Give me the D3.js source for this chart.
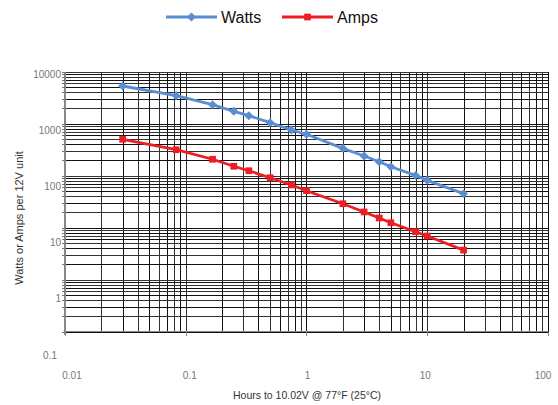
<!DOCTYPE html>
<html>
<head>
<meta charset="utf-8">
<script src="https://cdn.jsdelivr.net/npm/d3@7"></script>
<style>
body{margin:0;background:#fff;}
svg{display:block;font-family:"Liberation Sans",Arial,sans-serif;}
</style>
</head>
<body>
<svg id="c" width="558" height="405"></svg>
<script>
const hours = [0.03, 0.0833, 0.1667, 0.25, 0.333, 0.5, 0.75, 1, 2, 3, 4, 5, 8, 10, 20];
const watts = [5265, 3426, 2301, 1719, 1415, 1038, 751, 621, 334, 238, 185, 148, 101, 81, 45];
const amps  = [498, 314, 206, 151, 124, 91, 66, 51.2, 28.8, 20, 15.3, 12.4, 8.35, 6.9, 3.7];
const xTickLabels = [0.01, 0.1, 1, 10, 100];
const yTickLabels = [0.1, 1, 10, 100, 1000, 10000];
const seriesNames = ["Watts", "Amps"];

const svg = d3.select("#c");
const L = 65, R = 548, T = 71.5, B = 331.7;
const x = d3.scaleLog().domain([0.01, 100]).range([L, R]);
const y = d3.scaleLog().domain([0.1, 10000]).range([B, T]);
// tick label placement (labels in reference drift from the grid)
const xLab = d3.scaleLog().domain([0.01, 100]).range([72, 543]);
const yLab = d3.scaleLog().domain([0.1, 10000]).range([355, 74]);

// gridlines
const xg = [], yg = [];
for (let k = -2; k <= 1; k++) for (let m = 1; m <= 9; m++) xg.push(m * Math.pow(10, k));
xg.push(100);
for (let k = -1; k <= 3; k++) for (let m = 1; m <= 9; m++) yg.push(m * Math.pow(10, k));
yg.push(10000);

const grid = svg.append("g").attr("shape-rendering", "crispEdges");
grid.selectAll("line.v").data(xg).join("line")
  .attr("x1", d => Math.round(x(d)) + 0.5).attr("x2", d => Math.round(x(d)) + 0.5)
  .attr("y1", T).attr("y2", B)
  .attr("stroke", (d, i) => i % 2 ? "#333" : "#111").attr("stroke-width", 1);
grid.selectAll("line.h").data(yg).join("line")
  .attr("y1", d => Math.round(y(d)) + 0.5).attr("y2", d => Math.round(y(d)) + 0.5)
  .attr("x1", L).attr("x2", R)
  .attr("stroke", (d, i) => i % 2 ? "#333" : "#111").attr("stroke-width", 1);

// axes lines
const ax = svg.append("g").attr("shape-rendering", "crispEdges");
ax.append("line").attr("x1", L).attr("x2", L).attr("y1", T).attr("y2", B + 3).attr("stroke", "#888").attr("stroke-width", 1.5);
ax.append("line").attr("x1", L).attr("x2", R).attr("y1", B).attr("y2", B).attr("stroke", "#888").attr("stroke-width", 1.5);
ax.selectAll("line.yt").data(yg).join("line")
  .attr("x1", L - 3).attr("x2", L).attr("y1", d => Math.round(y(d)) + 0.5).attr("y2", d => Math.round(y(d)) + 0.5)
  .attr("stroke", "#777");
ax.selectAll("line.xt").data(xTickLabels).join("line")
  .attr("x1", d => Math.round(x(d)) + 0.5).attr("x2", d => Math.round(x(d)) + 0.5).attr("y1", B).attr("y2", B + 4)
  .attr("stroke", "#888");

// tick labels
svg.append("g").selectAll("text").data(yTickLabels).join("text")
  .attr("x", d => d === 0.1 ? 57 : 61).attr("y", d => yLab(d)).attr("dy", "0.35em")
  .attr("text-anchor", "end").attr("font-size", 10).attr("fill", "#777")
  .text(d => d3.format("~g")(d));
svg.append("g").selectAll("text").data(xTickLabels).join("text")
  .attr("x", d => xLab(d)).attr("y", 379)
  .attr("text-anchor", "middle").attr("font-size", 10).attr("fill", "#777")
  .text(d => d3.format("~g")(d));

// axis titles
svg.append("text").attr("transform", "translate(23,218) rotate(-90)")
  .attr("text-anchor", "middle").attr("font-size", 11).attr("fill", "#333")
  .text("Watts or Amps per 12V unit");
svg.append("text").attr("x", 307).attr("y", 399)
  .attr("text-anchor", "middle").attr("font-size", 10.5).attr("fill", "#333")
  .text("Hours to 10.02V @ 77°F (25°C)");

// series
const colors = ["#5A8ED2", "#EE1D24"];
const dataSets = [watts, amps];
const line = d3.line().x(d => x(d[0])).y(d => y(d[1]));
const markerPath = si => d3.symbol(d3.symbolSquare, si === 0 ? 40 : 45)();
const markerRot = si => si === 0 ? " rotate(45)" : "";
dataSets.forEach((vals, si) => {
  const pts = hours.map((h, i) => [h, vals[i]]);
  svg.append("path").datum(pts).attr("d", line).attr("fill", "none")
    .attr("stroke", colors[si]).attr("stroke-width", 2.8);
  svg.append("g").selectAll("path").data(pts).join("path")
    .attr("transform", d => `translate(${x(d[0])},${y(d[1])})${markerRot(si)}`)
    .attr("d", markerPath(si))
    .attr("fill", colors[si]);
});

// legend
const legX = [166, 282];
seriesNames.forEach((n, i) => {
  const g = svg.append("g").attr("transform", `translate(${legX[i]},17)`);
  g.append("line").attr("x1", 0).attr("x2", 51).attr("y1", 0).attr("y2", 0)
    .attr("stroke", colors[i]).attr("stroke-width", 3);
  g.append("path").attr("transform", `translate(25.5,0)${markerRot(i)}`)
    .attr("d", markerPath(i))
    .attr("fill", colors[i]);
  g.append("text").attr("x", 55).attr("y", 0).attr("dy", "0.36em")
    .attr("font-size", 16).attr("fill", "#111").text(n);
});
</script>
</body>
</html>
